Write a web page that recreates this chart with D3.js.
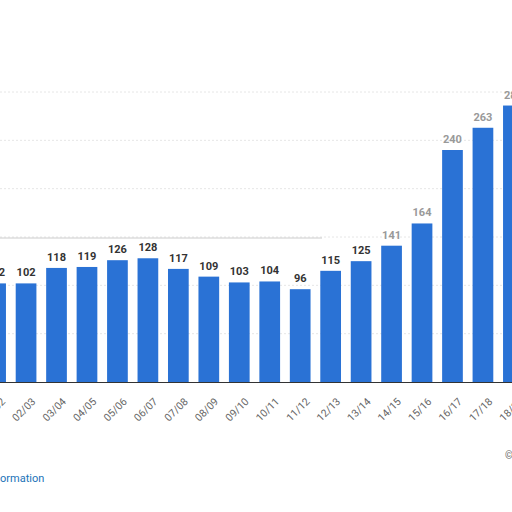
<!DOCTYPE html><html><head><meta charset="utf-8"><script src="https://cdn.jsdelivr.net/npm/d3@7"></script>
<style>body{margin:0;background:#fff}svg{display:block}</style></head><body><svg width="512" height="512"></svg><script>
const categories=["01/02","02/03","03/04","04/05","05/06","06/07","07/08","08/09","09/10","10/11","11/12","12/13","13/14","14/15","15/16","16/17","17/18","18/19"];
const values=[102,102,118,119,126,128,117,109,103,104,96,115,125,141,164,240,263,286];
const gridTicks=[0,50,100,150,200,250,300];
const svg=d3.select("svg");
const x=d3.scaleBand().domain(categories).range([-24.5,-24.5+31*categories.length]).padding(0.32);
const y=d3.scaleLinear().domain([0,300]).range([382,92]);
svg.append("g").selectAll("line").data(gridTicks.slice(1)).join("line")
 .attr("x1",0).attr("x2",512).attr("y1",d=>y(d)).attr("y2",d=>y(d))
 .attr("stroke","#e6e6e6").attr("stroke-dasharray","2,2");
svg.append("line").attr("x1",0).attr("x2",322).attr("y1",238).attr("y2",238).attr("stroke","#ccc");
svg.append("g").selectAll("rect").data(values).join("rect")
 .attr("x",(d,i)=>x(categories[i])).attr("width",x.bandwidth())
 .attr("y",d=>y(d)).attr("height",d=>382-y(d)).attr("fill","#2a72d5");
svg.append("g").selectAll("text").data(values).join("text")
 .attr("x",(d,i)=>x(categories[i])+x.bandwidth()/2).attr("y",d=>y(d)-7)
 .attr("text-anchor","middle").attr("font-family","Roboto, sans-serif").attr("font-size",11).attr("font-weight","bold")
 .attr("fill",(d,i)=>i>=13?"#999":"#333").text(d=>d);
svg.append("line").attr("x1",0).attr("x2",512).attr("y1",382.5).attr("y2",382.5).attr("stroke","#333");
svg.append("g").selectAll("text").data(categories).join("text")
 .attr("transform",c=>`translate(${x(c)+x.bandwidth()/2+5},${397}) rotate(-45)`)
 .attr("text-anchor","end").attr("dy","0.7em").attr("font-family","Roboto, sans-serif").attr("font-size",10.5).attr("fill","#666").text(c=>c);
svg.append("text").attr("x",0).attr("y",482).attr("font-family","Roboto, sans-serif").attr("font-size",11).attr("fill","#1a73b8").text("ormation");
svg.append("text").attr("x",505).attr("y",459).attr("font-family","Roboto, sans-serif").attr("font-size",10).attr("fill","#666").text("©");
</script></body></html>
